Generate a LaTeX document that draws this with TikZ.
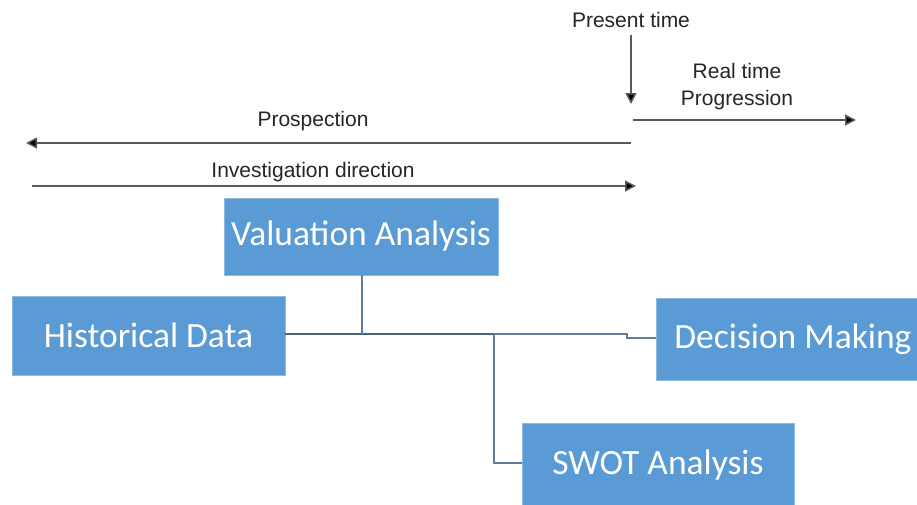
\documentclass[tikz,border=0pt]{standalone}
\usepackage{fontspec}
\setmainfont{Liberation Sans}
\newfontfamily\boxfont{Carlito}
\usetikzlibrary{arrows.meta}
\definecolor{boxblue}{HTML}{5B9BD5}
\definecolor{linkgray}{HTML}{5F7E9E}
\definecolor{arrowgray}{HTML}{5A5A5A}
\tikzset{
  block/.style={fill=boxblue, draw=boxblue!70!white, line width=0.8pt, text=white,
    font=\boxfont\fontsize{35.5}{40}\selectfont, inner sep=0pt},
  label/.style={font=\fontsize{21}{27}\selectfont, text=black!85, inner sep=0pt, align=center},
  timearrow/.style={draw=arrowgray, line width=1.5pt, -{Triangle[length=11pt,width=11pt,fill=black]}},
  link/.style={draw=linkgray, line width=1.2pt},
  linkbold/.style={draw=linkgray!80!black, line width=2.4pt}
}
\begin{document}
\begin{tikzpicture}[x=1pt,y=-1pt]
\useasboundingbox[fill=white] (0,0) rectangle (917,504);

% blocks
\node[block, minimum width=274pt, minimum height=77pt] (val) at (361,236.5) {Valuation Analysis};
\node[block, minimum width=273pt, minimum height=79pt] (hist) at (148.5,335.5) {Historical Data};
\node[block, minimum width=274pt, minimum height=82pt, anchor=west] (dec) at (655.5,339) {Decision Making};
\node[block, minimum width=272pt, minimum height=84pt, anchor=north west] (swot) at (521.5,423) {SWOT Analysis};

% timeline labels
\node[label] (present) at (631,20) {Present time};
\node[label] (realtime) at (737,87) {Real time\\Progression};
\node[label] (prosp) at (313,121) {Prospection};
\node[label] (invest) at (313,172) {Investigation direction};

% timeline arrows
\coordinate (now) at (631,120);
\coordinate (pdown) at (631,104);
\coordinate (futr) at (856,120);
\coordinate (pstart) at (631,143);
\coordinate (pend) at (26,143);
\coordinate (istart) at (32,186);
\coordinate (iend) at (636,186);
\draw[timearrow] (present.south) ++(0,7) coordinate (ptop) -- (pdown);
\draw[timearrow] (now) ++(2,0) -- (futr);
\draw[timearrow] (pstart) -- (pend);
\draw[timearrow] (istart) -- (iend);

% connectors between blocks
\coordinate (jv) at (362,334);
\coordinate (js) at (494,334);
\coordinate (jd) at (627,334);
\draw[linkbold] (hist.east |- jv) -- (js);
\draw[link] (val.south -| jv) -- (jv);
\draw[link] (js) -- (jd) -- ++(0,4) -- (dec.west |- 0,338);
\draw[link] (js) |- (swot.west |- 0,463);
\end{tikzpicture}
\end{document}
